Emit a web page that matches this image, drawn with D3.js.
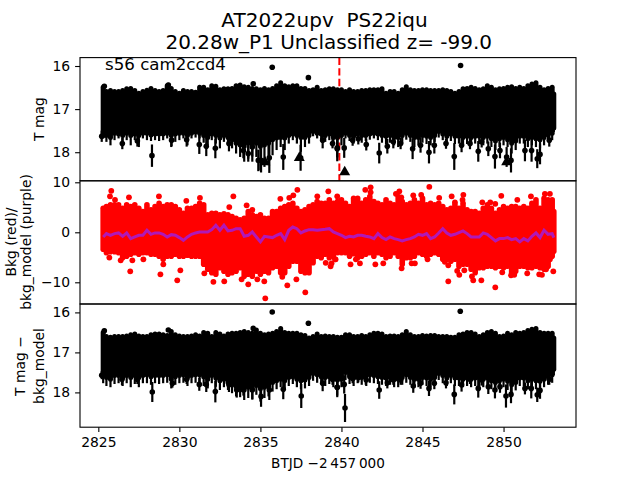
<!DOCTYPE html>
<html><head><meta charset="utf-8">
<script src="https://cdn.jsdelivr.net/npm/d3@7"></script>
<style>html,body{margin:0;background:#fff}svg{display:block}text{font-family:"DejaVu Sans";fill:#000}</style>
</head><body><svg id="c" width="640" height="480"></svg>
<script>
const titleLines=["AT2022upv  PS22iqu","20.28w_P1 Unclassified z= -99.0"];
const annotation="s56 cam2ccd4";
const xTicks=[2825,2830,2835,2840,2845,2850];
const magTicks=[16,17,18];
const bkgTicks=[10,0,-10];
const markerTime=2839.87;
const bandTimes=[2825.3,2825.5,2825.75,2826,2826.25,2826.5,2826.75,2827,2827.25,2827.5,2827.75,2828,2828.25,2828.5,2828.75,2829,2829.25,2829.5,2829.75,2830,2830.25,2830.5,2830.75,2831,2831.25,2831.5,2831.75,2832,2832.25,2832.5,2832.75,2833,2833.25,2833.5,2833.75,2834,2834.25,2834.5,2834.75,2835,2835.25,2835.5,2835.75,2836,2836.25,2836.5,2836.75,2837,2837.25,2837.5,2837.75,2838,2838.25,2838.5,2838.75,2839,2839.25,2839.5,2839.75,2840,2840.25,2840.5,2840.75,2841,2841.25,2841.5,2841.75,2842,2842.25,2842.5,2842.75,2843,2843.25,2843.5,2843.75,2844,2844.25,2844.5,2844.75,2845,2845.25,2845.5,2845.75,2846,2846.25,2846.5,2846.75,2847,2847.25,2847.5,2847.75,2848,2848.25,2848.5,2848.75,2849,2849.25,2849.5,2849.75,2850,2850.25,2850.5,2850.75,2851,2851.25,2851.5,2851.75,2852,2852.25,2852.5,2852.75,2853,2853.1];
const magTop=[16.49,16.59,16.57,16.59,16.59,16.57,16.53,16.52,16.57,16.63,16.59,16.56,16.52,16.57,16.59,16.57,16.46,16.52,16.59,16.63,16.57,16.59,16.59,16.61,16.49,16.49,16.55,16.46,16.47,16.55,16.53,16.53,16.52,16.46,16.44,16.48,16.49,16.52,16.53,16.55,16.52,16.55,16.52,16.46,16.39,16.46,16.48,16.46,16.46,16.52,16.52,16.57,16.55,16.49,16.57,16.55,16.53,16.53,16.55,16.55,16.59,16.55,16.59,16.59,16.57,16.57,16.55,16.55,16.55,16.53,16.63,16.59,16.59,16.63,16.55,16.48,16.55,16.57,16.57,16.55,16.55,16.57,16.57,16.57,16.55,16.57,16.59,16.63,16.59,16.53,16.52,16.49,16.52,16.55,16.53,16.46,16.49,16.55,16.53,16.52,16.49,16.48,16.52,16.49,16.52,16.46,16.42,16.39,16.49,16.55,16.52,16.49,16.65];
const magBottom=[17.61,17.61,17.66,17.56,17.58,17.61,17.56,17.61,17.58,17.61,17.56,17.56,17.60,17.58,17.58,17.58,17.56,17.61,17.58,17.56,17.56,17.61,17.56,17.53,17.56,17.61,17.66,17.58,17.61,17.67,17.61,17.66,17.71,17.79,17.83,17.87,17.79,17.83,17.79,17.87,17.83,17.79,17.71,17.67,17.66,17.67,17.61,17.58,17.61,17.66,17.66,17.61,17.52,17.56,17.58,17.61,17.58,17.66,17.66,17.61,17.56,17.61,17.63,17.58,17.61,17.61,17.58,17.56,17.58,17.61,17.63,17.61,17.66,17.66,17.61,17.56,17.61,17.66,17.66,17.61,17.63,17.66,17.61,17.52,17.58,17.63,17.58,17.63,17.63,17.66,17.63,17.66,17.63,17.63,17.66,17.63,17.69,17.74,17.69,17.66,17.71,17.79,17.74,17.63,17.63,17.69,17.66,17.69,17.71,17.66,17.60,17.56,17.44];
const magTeeth=[17.68,17.76,17.84,17.72,17.68,17.80,17.72,17.84,17.72,17.88,17.68,17.72,17.74,17.72,17.74,17.72,17.68,17.88,17.76,17.72,17.68,17.84,17.68,17.66,17.68,17.78,17.84,17.72,17.80,17.91,17.76,17.84,17.91,18.03,18.11,18.22,18.15,18.22,18.11,18.42,18.34,18.30,18.07,17.95,17.88,17.95,17.80,17.72,17.80,17.99,17.88,17.80,17.63,17.68,17.72,17.76,17.72,17.84,17.88,17.84,17.68,17.74,17.80,17.72,17.78,17.74,17.71,17.68,17.72,17.78,17.81,17.78,17.84,17.88,17.80,17.71,17.76,17.88,17.84,17.78,17.81,17.84,17.76,17.66,17.72,17.84,17.74,17.81,17.80,17.84,17.81,17.84,17.80,17.81,17.84,17.80,17.88,17.95,17.88,17.84,17.88,18.03,17.95,17.80,17.80,17.88,17.84,17.88,17.91,17.84,17.76,17.72,17.53];
const magSpikeTime=[2826.48,2827.41,2828.31,2831.23,2831.66,2832.22,2833.06,2833.95,2834.5,2835.04,2835.55,2836.41,2837.48,2838.84,2839.74,2830.45,2825.21,2829.52,2834.87,2834.25,2839.74,2840.17,2839.45,2840.69,2841.04,2841.53,2842.33,2842.83,2843.2,2843.65,2844.39,2844.88,2845.4,2845.73,2846.45,2846.96,2847.41,2847.93,2848.44,2848.65,2849.06,2849.47,2849.78,2850.46,2850.19,2851.32,2851.73,2852.08,2852.25,2852.82,2835.73,2837.96,2834.56,2847.35,2825.37,2829.32];
const magSpikeValue=[17.80,17.74,18.08,17.82,17.86,17.91,17.80,17.96,17.88,18.19,18.13,18.11,18.13,17.72,17.90,17.71,17.63,17.72,18.19,18.03,17.92,17.90,17.80,17.72,17.69,17.82,18.02,17.86,17.76,17.80,17.92,17.84,18.00,17.84,17.80,18.10,17.84,17.80,17.98,17.76,17.92,18.10,17.96,18.19,18.11,17.96,17.96,18.15,18.05,17.72,16.03,16.27,16.41,15.99,16.47,16.44];
const magSpikeErr=[.13,.13,.26,.22,.23,.23,.18,.18,.22,.28,.35,.3,.3,.19,.22,.16,.13,.14,.25,.19,.29,.23,.11,.13,.13,.14,.24,.17,.15,.13,.24,.17,.26,.19,.12,.31,.16,.13,.24,.13,.17,.28,.18,.28,.23,.25,.26,.22,.23,.15,.03,.03,.05,.03,.05,.05];
const limitTime=[2835.28,2837.4,2840.2,2850.19];
const limitMag=[18.23,18.13,18.46,18.23];
const bkgTop=[4.8,5.15,5.5,5.5,5.5,4.8,5.5,5.15,5.5,4.8,4.15,5.5,4.5,5.15,5.8,5.15,5.5,5.5,5.15,4.5,3.8,4.8,4.8,5.15,5.8,5.5,3.5,3.8,3.8,3.5,3.7,3.5,3.15,2.8,2.5,2.8,4.15,3.5,3.15,3.5,2.8,2.8,4.15,4.15,4.8,5.15,5.5,5.8,4.8,4.15,4.5,5.15,5.5,6.15,5.8,5.8,6.5,5.8,6.15,6.5,5.8,5.15,6.8,6.8,5.8,6.5,7.15,6.15,5.8,5.5,6.5,5.8,5.5,7.15,6.15,5.5,5.8,6.5,5.8,6.8,5.5,5.8,5.5,5.8,5.15,4.5,4.8,5.5,4.8,5.8,4.5,4.15,4.15,3.8,4.8,5.5,4.8,3.8,4.5,5.15,4.8,5.15,5.15,4.8,5.15,4.8,5.8,6.5,4.8,6.8,6.5,6.5,4.15];
const bkgBottom=[-3.4,-4.1,-3.9,-3.9,-4.1,-5.1,-4.8,-4.4,-4.1,-4.4,-4.1,-4.1,-4.4,-4.4,-4.8,-5.4,-4.8,-4.8,-4.4,-4.8,-4.8,-4.6,-4.8,-4.8,-4.8,-6.4,-7.4,-8.1,-8.4,-7.1,-7.8,-8.4,-8.1,-7.8,-7.1,-8.8,-8.4,-8.8,-7.8,-8.4,-7.8,-8.1,-7.1,-6.8,-8.1,-8.1,-6.8,-5.8,-5.8,-7.8,-8.1,-8.1,-6.1,-4.8,-5.1,-4.4,-5.1,-4.8,-4.1,-4.1,-4.1,-4.8,-4.3,-5.1,-4.8,-4.4,-4.1,-4.8,-4.1,-4.4,-5.1,-4.8,-4.1,-4.8,-6.4,-5.1,-5.1,-4.8,-4.1,-4.4,-4.8,-4.4,-4.1,-4.4,-5.4,-5.4,-5.8,-5.4,-6.8,-6.4,-6.4,-7.4,-8.1,-7.1,-7.1,-6.8,-6.8,-7.1,-6.8,-7.1,-6.8,-8.1,-7.8,-6.8,-6.8,-7.1,-7.1,-6.8,-7.1,-7.4,-6.8,-4.8,-3.8];
const bkgModel=[-.93,-.26,-.6,-.26,-.13,-.8,-.13,-1.26,-.93,-.6,-.6,.4,-.4,-.13,-.13,-.4,-.93,-.47,-.6,-1.06,-1.6,-.93,-.4,-.13,.07,.07,.07,.53,1.4,.4,1.4,.27,.4,.73,.73,-.8,-.6,.07,-.93,-1.92,-.8,-.93,-1.06,-.6,-.26,-1.46,.4,1.06,.73,-.13,.27,.53,.53,.4,.53,.6,.73,.07,-.26,-.6,-1.06,-.8,-.93,-.6,-.6,-.8,-.93,-1.26,-.26,-1.06,-1.46,-.93,-1.26,-1.46,-1.72,-1.46,-1.26,-.93,-.4,-.6,-.26,-1.26,-.93,-.13,.73,-.13,-.6,-.4,-.07,.27,-.26,-.93,-.93,-.93,-.13,-.4,-1.06,-1.72,-1.26,-1.26,-1.06,-1.46,-1.26,-1.92,-1.26,-1.72,-.8,-.13,-1.06,.4,-.4,-.26,-1.06];
const bkgPointTime=[2825.8,2825.72,2826.03,2826.89,2828.74,2830.43,2831.27,2833.33,2833.08,2834.15,2834.5,2836.23,2836.78,2837.03,2837.28,2838.51,2839.19,2839.74,2825.68,2826.38,2827.1,2826.97,2827.78,2828.83,2830.06,2829.87,2829.01,2831.54,2832.1,2832.77,2834.25,2835.24,2835.3,2836.66,2837.22,2837.77,2836.35,2839.03,2839.33,2839.64,2834.81,2833.84,2845.42,2841.8,2841.8,2841.47,2843.36,2843.57,2844.92,2844.43,2843.69,2846.03,2846.8,2847.52,2847.47,2847,2848.69,2849.18,2849.49,2849.86,2850.85,2851.69,2852.55,2852.86,2839.39,2839.6,2840.56,2840.89,2841.14,2842.09,2842.58,2843.71,2844.33,2844.53,2845.31,2846.38,2846.59,2846.59,2847.14,2847.27,2847.58,2848.13,2848.63,2849.49,2848.05,2849.92,2850.46,2850.66,2851.46,2852.2,2852.37,2853.07,2852.62,2852.86];
const bkgPointValue=[8.3,7.2,6.5,7.0,7.2,6.3,6.9,7.2,5.05,5.4,4.5,6.7,6.9,7.4,8.5,7.2,8.2,7.2,-5.05,-5.6,-5.6,-7.8,-5.4,-8.4,-7.6,-9.6,-6.4,-8.2,-9.9,-9.8,-10.4,-9.8,-13.2,-10.6,-9.4,-12.0,-8.9,-6.1,-6.8,-5.4,-9.4,-9.4,9.1,9.0,8.0,8.5,7.7,8.2,7.5,7.4,7.0,6.9,7.2,7.5,6.5,6.0,6.0,6.0,5.7,7.3,6.5,7.2,7.7,7.7,-6.2,-5.4,-6.4,-5.4,-6.2,-6.4,-6.2,-7.2,-6.2,-6.2,-5.4,-5.9,-6.6,-9.8,-7.7,-8.5,-7.6,-9.6,-9.6,-11.0,-8.8,-8.0,-8.6,-8.5,-8.2,-8.4,-8.5,-7.8,-7.4,-5.4];
const diffTop=[16.50,16.60,16.62,16.60,16.60,16.60,16.59,16.56,16.54,16.59,16.60,16.60,16.56,16.54,16.54,16.56,16.58,16.48,16.56,16.59,16.60,16.60,16.59,16.56,16.59,16.50,16.52,16.60,16.50,16.54,16.59,16.54,16.52,16.52,16.50,16.48,16.50,16.52,16.44,16.52,16.56,16.54,16.52,16.48,16.40,16.50,16.52,16.52,16.52,16.56,16.58,16.64,16.60,16.54,16.60,16.59,16.60,16.60,16.62,16.62,16.56,16.56,16.60,16.60,16.58,16.60,16.56,16.52,16.52,16.54,16.60,16.59,16.59,16.60,16.56,16.48,16.56,16.60,16.60,16.58,16.59,16.58,16.58,16.60,16.60,16.60,16.62,16.62,16.56,16.54,16.50,16.50,16.54,16.60,16.56,16.50,16.48,16.52,16.60,16.59,16.52,16.56,16.50,16.52,16.50,16.45,16.42,16.40,16.50,16.52,16.52,16.52,16.64];
const diffBottom=[17.58,17.63,17.67,17.58,17.58,17.63,17.58,17.63,17.58,17.63,17.58,17.56,17.61,17.58,17.58,17.58,17.56,17.67,17.61,17.58,17.56,17.63,17.58,17.56,17.56,17.61,17.67,17.58,17.64,17.71,17.67,17.75,17.81,17.86,17.89,17.94,17.87,17.91,17.83,17.91,17.87,17.86,17.75,17.71,17.67,17.71,17.63,17.61,17.67,17.71,17.69,17.63,17.53,17.56,17.61,17.63,17.61,17.67,17.69,17.67,17.5,17.61,17.64,17.58,17.63,17.63,17.56,17.58,17.61,17.63,17.64,17.63,17.67,17.67,17.63,17.56,17.63,17.67,17.67,17.63,17.64,17.67,17.63,17.53,17.58,17.64,17.58,17.64,17.64,17.67,17.64,17.67,17.64,17.64,17.67,17.64,17.71,17.75,17.71,17.67,17.72,17.81,17.75,17.64,17.64,17.71,17.67,17.71,17.72,17.67,17.61,17.56,17.42];
const diffTeeth=[17.77,17.84,17.87,17.79,17.77,17.84,17.77,17.87,17.79,17.87,17.77,17.77,17.81,17.77,17.79,17.77,17.76,17.90,17.81,17.77,17.76,17.84,17.77,17.76,17.76,17.84,17.90,17.77,17.86,17.94,17.87,17.94,18.02,18.10,18.12,18.19,18.14,18.17,18.06,18.23,18.14,18.10,17.98,17.92,17.87,17.92,17.84,17.79,17.87,17.92,17.90,17.84,17.71,17.76,17.79,17.84,17.79,17.87,17.90,17.87,17.69,17.79,17.84,17.77,17.81,17.81,17.76,17.77,17.79,17.81,17.84,17.81,17.87,17.87,17.81,17.76,17.81,17.87,17.87,17.81,17.84,17.87,17.81,17.69,17.77,17.84,17.77,17.84,17.84,17.87,17.84,17.87,17.84,17.84,17.87,17.84,17.92,17.95,17.92,17.87,17.94,18.02,17.95,17.84,17.84,17.92,17.87,17.92,17.94,17.87,17.81,17.76,17.57];
const diffSpikeTime=[2826.46,2827.41,2828.33,2831.23,2831.66,2832.22,2833.06,2833.54,2833.95,2834.5,2835.04,2835.55,2836.41,2837.52,2838.84,2839.74,2825.21,2829.57,2830.45,2837.03,2839.74,2840.17,2840.22,2839.45,2840.69,2841.04,2841.53,2842.33,2842.83,2843.2,2843.65,2844.43,2844.88,2845.4,2845.73,2846.45,2846.96,2847.41,2847.93,2848.44,2848.65,2849.06,2849.47,2849.78,2850.15,2850.46,2851.32,2851.71,2852.08,2852.25,2852.82,2835.73,2837.96,2847.33,2834.56,2825.37,2829.32];
const diffSpikeValue=[17.67,17.67,17.99,17.80,17.80,17.98,17.81,17.94,17.94,17.94,18.1,17.94,17.92,18.09,17.77,17.87,17.57,17.77,17.67,17.57,17.87,17.80,18.39,17.67,17.65,17.63,17.69,17.94,17.76,17.69,17.69,17.84,17.77,17.90,17.77,17.76,18.05,17.81,17.67,17.90,17.69,17.86,17.94,17.86,18.09,18.05,17.90,17.90,18.06,17.95,17.67,15.99,16.27,15.97,16.40,16.46,16.44];
const diffSpikeErr=[.15,.12,.25,.16,.19,.27,.18,.19,.14,.24,.26,.25,.25,.30,.20,.21,.10,.11,.12,.10,.25,.23,.35,.14,.12,.12,.15,.22,.14,.12,.12,.17,.14,.19,.15,.14,.25,.17,.12,.23,.14,.18,.21,.15,.29,.22,.15,.25,.18,.21,.14,.03,.03,.03,.05,.05,.05];

const svg=d3.select("#c");
const L=80,R=576,panels=[[57.6,180.8],[180.8,304],[304,427.2]];
const x=d3.scaleLinear().domain([2823.87,2854.47]).range([L,R]);
const yMag=d3.scaleLinear().domain([15.805,18.663]).range(panels[0]);
const yBkg=d3.scaleLinear().domain([10.3,-14.34]).range(panels[1]);
const yDiff=d3.scaleLinear().domain([15.79,18.87]).range(panels[2]);

function band(g,y,top,bottom,color,w){
  g.selectAll(null).data(bandTimes).join("line")
   .attr("x1",d=>x(d)).attr("x2",d=>x(d))
   .attr("y1",(d,i)=>y(top[i])).attr("y2",(d,i)=>y(bottom[i]))
   .attr("stroke",color).attr("stroke-width",w).attr("stroke-linecap","round");
}
function teeth(g,y,bottom,deep){
  g.selectAll(null).data(bandTimes).join("line")
   .attr("x1",d=>x(d)).attr("x2",d=>x(d))
   .attr("y1",(d,i)=>y(bottom[i])).attr("y2",(d,i)=>y(deep[i]))
   .attr("stroke","#000").attr("stroke-width",2.2);
}
function spikes(g,y,t,v,e){
  g.selectAll(null).data(t).join("line")
   .attr("x1",d=>x(d)).attr("x2",d=>x(d))
   .attr("y1",(d,i)=>y(v[i]-e[i])).attr("y2",(d,i)=>y(v[i]+e[i]))
   .attr("stroke","#000").attr("stroke-width",2.2);
  g.selectAll(null).data(t).join("circle")
   .attr("cx",d=>x(d)).attr("cy",(d,i)=>y(v[i])).attr("r",2.8).attr("fill","#000");
}
// top panel
const g1=svg.append("g");
g1.append("line").attr("x1",x(markerTime)).attr("x2",x(markerTime))
  .attr("y1",panels[0][0]).attr("y2",panels[0][1])
  .attr("stroke","#f00").attr("stroke-width",2).attr("stroke-dasharray","7.4,3.2");
band(g1,yMag,magTop,magBottom,"#000",5);
teeth(g1,yMag,magBottom,magTeeth);
spikes(g1,yMag,magSpikeTime,magSpikeValue,magSpikeErr);
g1.selectAll(null).data(limitTime).join("path")
  .attr("transform",(d,i)=>`translate(${x(d)},${yMag(limitMag[i])})`)
  .attr("d",d3.symbol(d3.symbolTriangle,52)).attr("fill","#000");
// middle panel
const g2=svg.append("g");
band(g2,yBkg,bkgTop,bkgBottom,"#f00",5.6);
g2.selectAll(null).data(bkgPointTime).join("circle")
  .attr("cx",d=>x(d)).attr("cy",(d,i)=>yBkg(bkgPointValue[i])).attr("r",2.9).attr("fill","#f00");
g2.append("path").datum(bandTimes)
  .attr("d",d3.line().x(d=>x(d)).y((d,i)=>yBkg(bkgModel[i])))
  .attr("fill","none").attr("stroke","#b018b8").attr("stroke-width",3);
// bottom panel
const g3=svg.append("g");
band(g3,yDiff,diffTop,diffBottom,"#000",5);
teeth(g3,yDiff,diffBottom,diffTeeth);
spikes(g3,yDiff,diffSpikeTime,diffSpikeValue,diffSpikeErr);

// frames and axes
panels.forEach(p=>svg.append("rect").attr("x",L).attr("y",p[0]).attr("width",R-L).attr("height",p[1]-p[0])
  .attr("fill","none").attr("stroke","#000").attr("stroke-width",1.1));
function style(a){a.select(".domain").remove();a.selectAll("line").attr("stroke","#000").attr("stroke-width",1.1);
  a.selectAll("text").attr("font-family","DejaVu Sans").attr("font-size",13.9).attr("fill","#000");}
const ax=d3.axisLeft;
svg.append("g").attr("transform",`translate(${L},0)`).call(ax(yMag).tickValues(magTicks).tickSize(4.9).tickPadding(4.9).tickFormat(d3.format("d"))).call(style);
svg.append("g").attr("transform",`translate(${L},0)`).call(ax(yBkg).tickValues(bkgTicks).tickSize(4.9).tickPadding(4.9).tickFormat(d=>String(d).replace("-","\u2212"))).call(style);
svg.append("g").attr("transform",`translate(${L},0)`).call(ax(yDiff).tickValues(magTicks).tickSize(4.9).tickPadding(4.9).tickFormat(d3.format("d"))).call(style);
svg.append("g").attr("transform",`translate(0,${panels[2][1]})`).call(d3.axisBottom(x).tickValues(xTicks).tickSize(4.9).tickPadding(4.9).tickFormat(d3.format("d"))).call(style);

// text
const T=(tx,ty,s,fs,rot)=>{const t=svg.append("text").attr("font-size",fs).attr("text-anchor","middle").attr("style","white-space:pre").text(s);
  t.attr("transform",`translate(${tx},${ty})`+(rot?" rotate(-90)":""));return t;};
T(324.5,26.7,titleLines[0],20);
T(328.7,49.3,titleLines[1],20);
svg.append("text").attr("x",105).attr("y",70).attr("font-size",16.67).text(annotation);
T(43.5,119,"T mag",13.9,true);
T(15.5,242,"Bkg (red)/",13.9,true);
T(31,242,"bkg_model (purple)",13.9,true);
T(25.3,366,"T mag \u2212",13.9,true);
T(43.5,366,"bkg_model",13.9,true);
T(328,468,"BTJD \u22122\u2009457\u2009000",13.6);
</script></body></html>
